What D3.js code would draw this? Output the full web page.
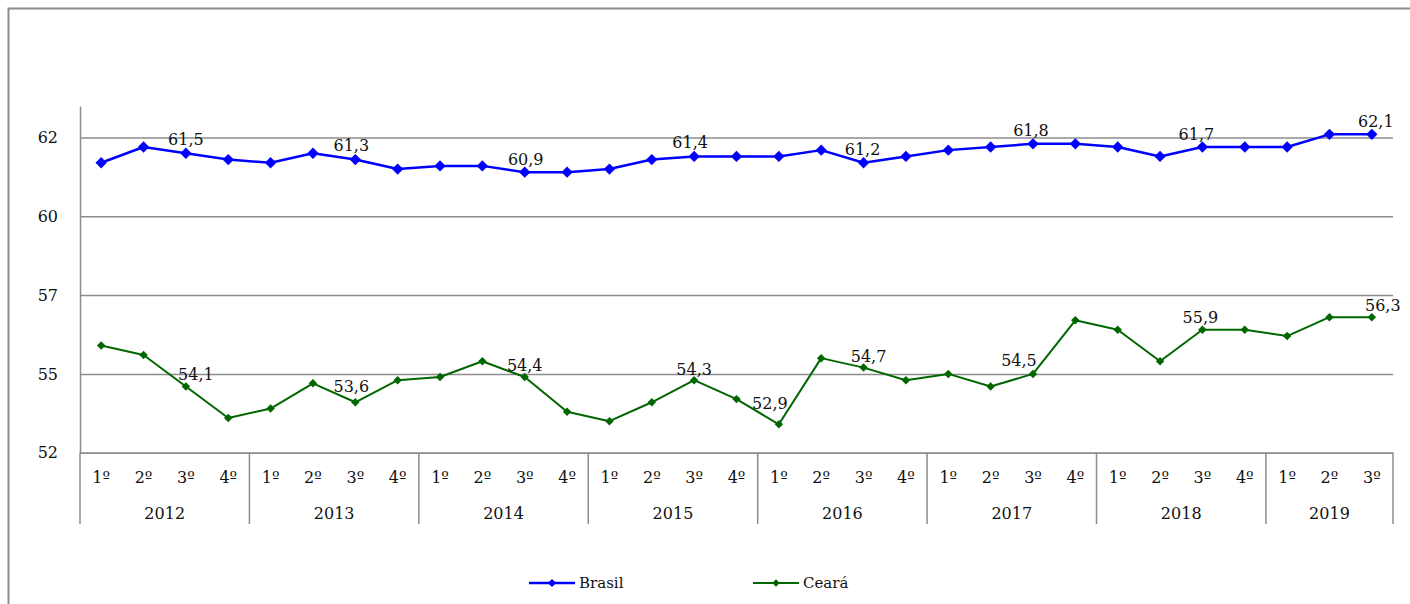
<!DOCTYPE html>
<html>
<head>
<meta charset="utf-8">
<script src="https://cdn.jsdelivr.net/npm/d3@7"></script>
<style>
	body { margin: 0; background: #fff; }
	text { font-family: "DejaVu Serif", "Liberation Serif", serif; fill: #111; }
	.grid line { stroke: #8c8c8c; stroke-width: 1.5; }
	.grid path { stroke: #8c8c8c; stroke-width: 1.5; }
</style>
</head>
<body>
<div id="chart"></div>
<script>
var w = 1410;
var h = 604;

// categories
var years = [2012, 2013, 2014, 2015, 2016, 2017, 2018, 2019];
var quartersPerYear = [4, 4, 4, 4, 4, 4, 4, 3];
var quarterLabels = ["1º", "2º", "3º", "4º"];

// series values
var brasil = [61.2, 61.7, 61.5, 61.3, 61.2, 61.5, 61.3, 61.0,
              61.1, 61.1, 60.9, 60.9, 61.0, 61.3, 61.4, 61.4,
              61.4, 61.6, 61.2, 61.4, 61.6, 61.7, 61.8, 61.8,
              61.7, 61.4, 61.7, 61.7, 61.7, 62.1, 62.1];
var ceara = [55.4, 55.1, 54.1, 53.1, 53.4, 54.2, 53.6, 54.3,
             54.4, 54.9, 54.4, 53.3, 53.0, 53.6, 54.3, 53.7,
             52.9, 55.0, 54.7, 54.3, 54.5, 54.1, 54.5, 56.2,
             55.9, 54.9, 55.9, 55.9, 55.7, 56.3, 56.3];

// y ticks (labels show rounded values)
var yTicks = [52, 54.5, 57, 59.5, 62];
var yDomain = [52, 63];

// which points carry a data label
var brasilLabelIdx = [2, 6, 10, 14, 18, 22, 26, 30];
var cearaLabelIdx = [2, 6, 10, 14, 16, 18, 22, 26, 30];
// small nudges for the labels, as Excel placed them by hand
var brasilLabelNudge = [[0, -14], [-4, -14], [1, -13], [-4, -14], [-1, -13], [-2, -13], [-6, -12], [4, -13]];
var cearaLabelNudge = [[10, -12], [-4, -16], [0, -12], [0, -11], [-9, -21], [5, -11], [-14, -13], [-2, -12], [11, -12]];

function init() {
	var categories = [];
	years.forEach(function(y, i) {
		for (var q = 0; q < quartersPerYear[i]; q++) {
			categories.push({ year: y, q: quarterLabels[q], key: y + "-" + q });
		}
	});

	var left = 80, right = 1393, top = 106, bottom = 452.7;

	var xScale = d3.scaleBand()
		.domain(categories.map(function(d) { return d.key; }))
		.range([left, right]);

	var yScale = d3.scaleLinear()
		.domain(yDomain)
		.range([bottom, top]);

	var svg = d3.select("#chart")
		.append("svg")
		.attr("width", w)
		.attr("height", h);

	// outer frame
	svg.append("rect")
		.attr("x", 8.5).attr("y", 8.5)
		.attr("width", w + 10).attr("height", h + 10)
		.attr("fill", "none")
		.attr("stroke", "#8c8c8c")
		.attr("stroke-width", 2);

	// y axis + gridlines
	var yAxis = d3.axisLeft(yScale)
		.tickValues(yTicks)
		.tickSizeInner(-(right - left))
		.tickSizeOuter(0)
		.tickPadding(22)
		.tickFormat(function(d) { return Math.round(d); });

	var gy = svg.append("g")
		.attr("class", "grid")
		.attr("transform", "translate(" + left + ",0)")
		.call(yAxis);
	gy.selectAll("text").style("font-size", "16px").attr("fill", "#111");

	// x axis (quarters)
	var xAxis = d3.axisBottom(xScale)
		.tickSize(0)
		.tickPadding(0)
		.tickFormat(function(k, i) { return categories[i].q; });

	var gx = svg.append("g")
		.attr("transform", "translate(0," + bottom + ")")
		.call(xAxis);
	gx.select(".domain").attr("stroke", "#8c8c8c").attr("stroke-width", 1.5);
	gx.selectAll("text")
		.attr("y", 30)
		.attr("dy", null)
		.style("font-size", "16px")
		.attr("fill", "#111");

	// year separators and labels
	var start = 0;
	years.forEach(function(y, i) {
		var first = categories[start].key;
		var last = categories[start + quartersPerYear[i] - 1].key;
		var x0 = xScale(first);
		var x1 = xScale(last) + xScale.bandwidth();
		svg.append("line")
			.attr("x1", x0).attr("x2", x0)
			.attr("y1", bottom).attr("y2", 524)
			.attr("stroke", "#8c8c8c").attr("stroke-width", 1.5);
		if (i == years.length - 1) {
			svg.append("line")
				.attr("x1", x1).attr("x2", x1)
				.attr("y1", bottom).attr("y2", 524)
				.attr("stroke", "#8c8c8c").attr("stroke-width", 1.5);
		}
		svg.append("text")
			.attr("x", (x0 + x1) / 2)
			.attr("y", 519)
			.attr("text-anchor", "middle")
			.style("font-size", "16px")
			.text(y);
		start += quartersPerYear[i];
	});

	function cx(i) { return xScale(categories[i].key) + xScale.bandwidth() / 2; }

	var line = d3.line()
		.x(function(d, i) { return cx(i); })
		.y(function(d) { return yScale(d); });

	// square turned 45deg = even diamond, like the Excel marker
	var diamond = d3.symbol().type(d3.symbolSquare);

	function drawSeries(values, color, lw, msize, labelIdx, nudge) {
		svg.append("path")
			.datum(values)
			.attr("fill", "none")
			.attr("stroke", color)
			.attr("stroke-width", lw)
			.attr("stroke-linejoin", "round")
			.attr("d", line);

		svg.selectAll(null)
			.data(values)
			.enter()
			.append("path")
			.attr("d", diamond.size(msize)())
			.attr("fill", color)
			.attr("transform", function(d, i) {
				return "translate(" + cx(i) + "," + yScale(d) + ") rotate(45)";
			});

		svg.selectAll(null)
			.data(labelIdx)
			.enter()
			.append("text")
			.attr("x", function(d, j) { return cx(d) + nudge[j][0]; })
			.attr("y", function(d, j) { return yScale(values[d]) + nudge[j][1]; })
			.attr("text-anchor", "middle")
			.attr("dominant-baseline", "central")
			.style("font-size", "16px")
			.text(function(d) { return values[d].toFixed(1).replace(".", ","); });
	}

	drawSeries(brasil, "#0000ff", 2.5, 64, brasilLabelIdx, brasilLabelNudge);
	drawSeries(ceara, "#006600", 2, 36, cearaLabelIdx, cearaLabelNudge);

	// legend
	var legend = [
		{ name: "Brasil", color: "#0000ff", x: 529, lw: 2.5, ms: 34 },
		{ name: "Ceará", color: "#006600", x: 753, lw: 2, ms: 28 }
	];
	var lg = svg.selectAll(null)
		.data(legend)
		.enter()
		.append("g")
		.attr("transform", function(d) { return "translate(" + d.x + ",583)"; });
	lg.append("line")
		.attr("x1", 0).attr("x2", 46)
		.attr("stroke", function(d) { return d.color; })
		.attr("stroke-width", function(d) { return d.lw; });
	lg.append("path")
		.attr("d", function(d) { return diamond.size(d.ms)(); })
		.attr("transform", "translate(23,0) rotate(45)")
		.attr("fill", function(d) { return d.color; });
	lg.append("text")
		.attr("x", 50)
		.attr("dominant-baseline", "central")
		.style("font-size", "15px")
		.text(function(d) { return d.name; });
}

window.onload = init;
</script>
</body>
</html>
